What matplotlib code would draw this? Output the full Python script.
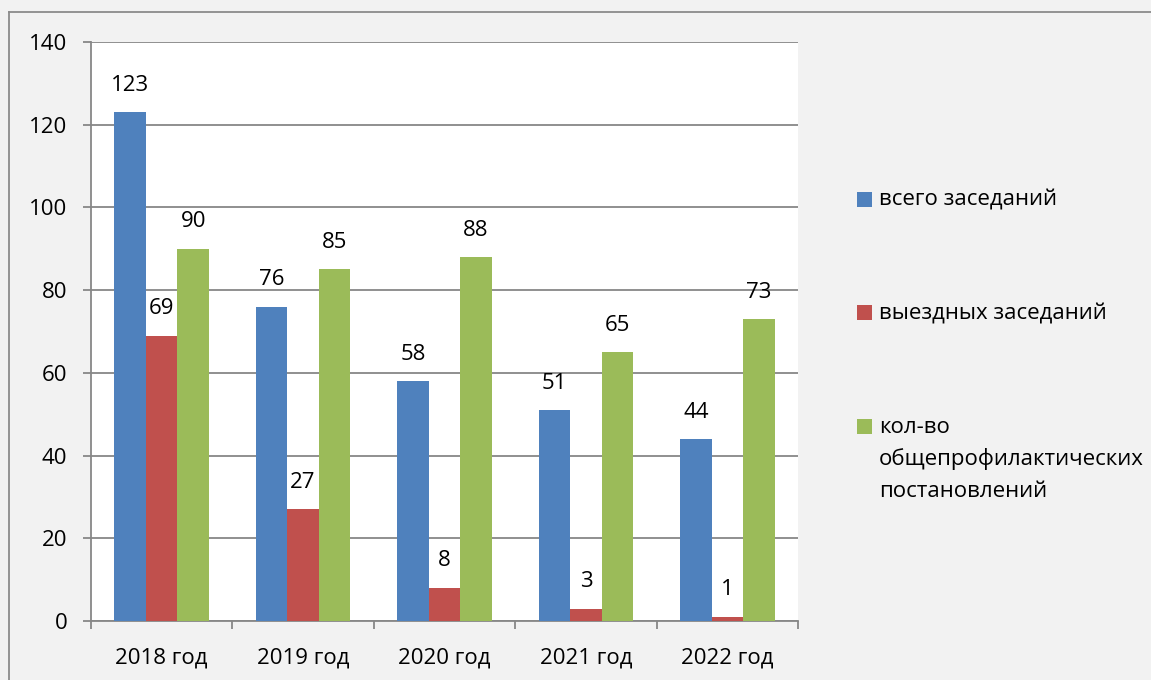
import matplotlib
matplotlib.use("Agg")
import matplotlib.pyplot as plt
import numpy as np
from matplotlib.patches import Rectangle
from matplotlib.lines import Line2D

plt.rcParams['font.family'] = ['Open Sans', 'DejaVu Sans']

categories = ["2018 год", "2019 год", "2020 год", "2021 год", "2022 год"]
series_names = ["всего заседаний", "выездных заседаний",
                "кол-во\nобщепрофилактических\nпостановлений"]
vsego = [123, 76, 58, 51, 44]
vyezdnyh = [69, 27, 8, 3, 1]
postanovleniy = [90, 85, 88, 65, 73]
colors = ["#4f81bd", "#c0504d", "#9bbb59"]
yticks = [0, 20, 40, 60, 80, 100, 120, 140]

FS = 16
W, H = 1151, 680
fig = plt.figure(figsize=(W / 100, H / 100), dpi=100)
fig.patch.set_facecolor("#f2f2f2")
ax = fig.add_axes([91 / W, 1 - 621 / H, (798 - 91) / W, (621 - 42) / H])
ax.set_facecolor("white")

x = np.arange(len(categories))
bw = 0.223
grid_c = "#878787"
for i, (vals, c) in enumerate(zip([vsego, vyezdnyh, postanovleniy], colors)):
    pos = x + (i - 1) * bw
    ax.bar(pos, vals, width=bw, color=c, zorder=3, linewidth=0)
    for p, v in zip(pos, vals):
        ax.annotate(str(v), (p, v), xytext=(0, 27), textcoords="offset pixels",
                    ha="center", va="center", fontsize=FS, color="black", zorder=4)

ax.set_xlim(-0.5, len(categories) - 0.5)
ax.set_ylim(0, 140)
ax.set_yticks(yticks)
ax.set_yticklabels([str(t) for t in yticks], fontsize=FS)
ax.yaxis.grid(True, color=grid_c, linewidth=1.3, zorder=0)
ax.set_axisbelow(True)

ax.set_xticks(np.arange(-0.5, len(categories), 1.0))
ax.set_xticklabels([""] * (len(categories) + 1))
ax.set_xticks(x, minor=True)
ax.set_xticklabels(categories, minor=True, fontsize=FS)
ax.tick_params(axis="x", which="minor", length=0, pad=19)
ax.tick_params(axis="x", which="major", length=6, width=1.3, color=grid_c, direction="out")
ax.tick_params(axis="y", length=6, width=1.3, color=grid_c, direction="out", pad=11)

for s in ["top", "right"]:
    ax.spines[s].set_visible(False)
for s in ["left", "bottom"]:
    ax.spines[s].set_color(grid_c)
    ax.spines[s].set_linewidth(1.3)

# legend (manual, to mimic the spread-out layout)
leg_y = [200, 313, 427]
line_gap = 32
for name, c, yy in zip(series_names, colors, leg_y):
    fig.add_artist(Rectangle((857 / W, 1 - (yy + 7) / H), 15 / W, 15 / H,
                             transform=fig.transFigure, color=c, linewidth=0))
    for k, line in enumerate(name.split("\n")):
        fig.text(879 / W, 1 - (yy + 6 + k * line_gap) / H, line, fontsize=FS,
                 va="baseline", ha="left")

# outer border
fig.add_artist(Line2D([9 / W, 9 / W], [0, 1 - 12 / H], transform=fig.transFigure,
                      color="#8c8c8c", linewidth=1.3))
fig.add_artist(Line2D([9 / W, 1], [1 - 12 / H, 1 - 12 / H], transform=fig.transFigure,
                      color="#8c8c8c", linewidth=1.3))

fig.savefig("out.png", dpi=100, facecolor=fig.get_facecolor())
